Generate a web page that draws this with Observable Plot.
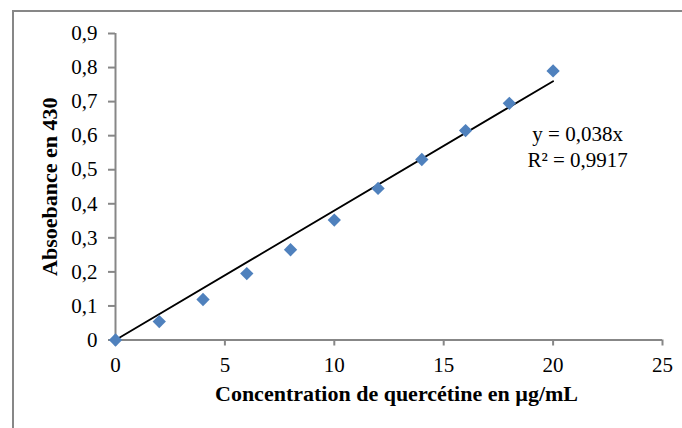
<!DOCTYPE html>
<html>
<head>
<meta charset="utf-8">
<script src="https://cdn.jsdelivr.net/npm/d3@7"></script>
<script src="https://cdn.jsdelivr.net/npm/@observablehq/plot@0.6"></script>
<style>
  html, body { margin: 0; padding: 0; background: #fff; }
  #wrap { position: relative; width: 682px; height: 428px; overflow: hidden; }
  #frame { position: absolute; left: 12px; top: 10px; width: 700px; height: 440px;
           border-left: 2px solid #878787; border-top: 2px solid #878787; pointer-events: none; }
  #chart { position: absolute; left: 0; top: 0; }
</style>
</head>
<body>
<div id="wrap"><div id="chart"></div><div id="frame"></div></div>
<script>
const concentrations = [0, 2, 4, 6, 8, 10, 12, 14, 16, 18, 20];
const absorbances = [0, 0.054, 0.119, 0.195, 0.265, 0.352, 0.445, 0.530, 0.615, 0.695, 0.790];
const slope = 0.038;
const xTicks = [0, 5, 10, 15, 20, 25];
const yTicks = [0, 0.1, 0.2, 0.3, 0.4, 0.5, 0.6, 0.7, 0.8, 0.9];
const equationLabel = ["y = 0,038x\nR² = 0,9917"];
const equationPos = {x: 21.12, y: 0.571};
const xTitle = "Concentration de quercétine en µg/mL";
const yTitle = "Absoebance en 430";

const points = concentrations.map((c, i) => ({c, a: absorbances[i]}));
const trend = [0, d3.max(concentrations)].map(c => ({c, a: slope * c}));
const fmt = d => d === 0 ? "0" : String(+d.toFixed(1)).replace(".", ",");
const axisColor = "#878787";
const serif = "'Liberation Serif', 'Times New Roman', serif";

const chart = Plot.plot({
  width: 682,
  height: 428,
  marginLeft: 115,
  marginRight: 20,
  marginTop: 33,
  marginBottom: 88.5,
  style: {fontFamily: serif, fontSize: "21px", color: "black", background: "white", overflow: "visible"},
  x: {domain: [0, 25]},
  y: {domain: [0, 0.9]},
  marks: [
    Plot.ruleY([0], {stroke: axisColor, strokeWidth: 2}),
    Plot.ruleX([0], {stroke: axisColor, strokeWidth: 2}),
    Plot.axisX({ticks: xTicks, tickSize: 6, tickPadding: 11, stroke: axisColor, strokeWidth: 2, fill: "black", fontSize: 21, label: null}),
    Plot.axisY({ticks: yTicks, tickFormat: fmt, tickSize: 7, tickPadding: 11, stroke: axisColor, strokeWidth: 2, fill: "black", fontSize: 21, label: null}),
    Plot.line(trend, {x: "c", y: "a", stroke: "black", strokeWidth: 1.8}),
    Plot.dot(points, {x: "c", y: "a", symbol: "diamond2", r: 6, fill: "#4F81BD", stroke: "none"}),
    Plot.text(equationLabel, {x: () => equationPos.x, y: () => equationPos.y, text: d => d, textAnchor: "middle", lineHeight: 1.22, fontSize: 21, fill: "black"}),
    Plot.text([xTitle], {frameAnchor: "bottom", dx: 7.5, dy: 61, text: d => d, textAnchor: "middle", fontWeight: "bold", fontSize: 22, fill: "black"}),
    Plot.text([yTitle], {frameAnchor: "left", dx: -66, rotate: -90, text: d => d, textAnchor: "middle", fontWeight: "bold", fontSize: 22, fill: "black"})
  ]
});
document.getElementById("chart").appendChild(chart);
</script>
</body>
</html>
